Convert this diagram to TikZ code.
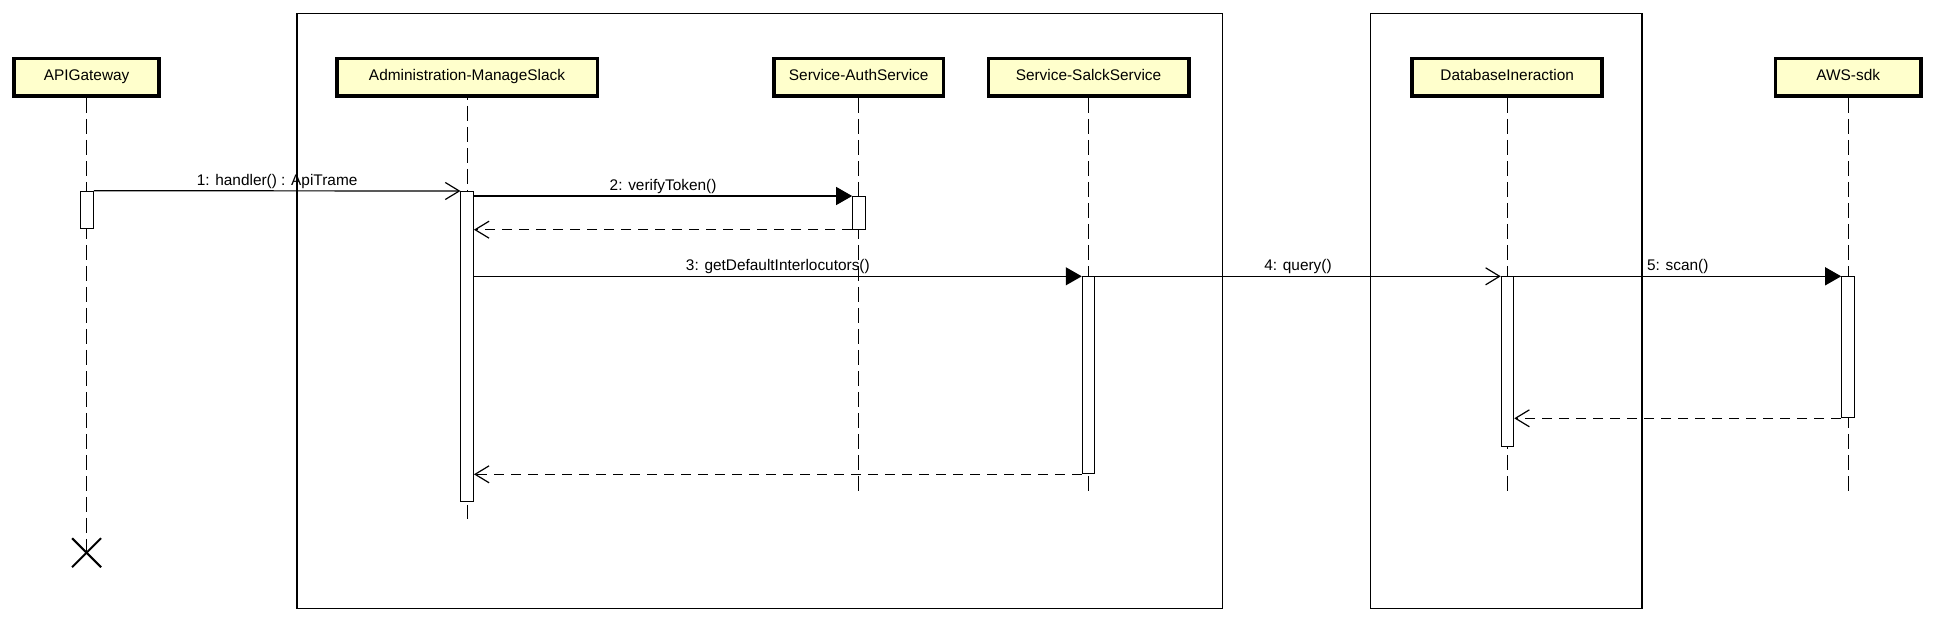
\documentclass[tikz,border=0pt]{standalone}
\usepackage{fontspec}
\setmainfont{Liberation Sans}
\usetikzlibrary{arrows.meta}
\definecolor{boxfill}{HTML}{FFFFCC}
\begin{document}
\begin{tikzpicture}[x=1pt,y=-1pt,
  every node/.style={font=\fontsize{15.4}{18}\selectfont},
  lifebox/.style={draw, line width=3.5pt, fill=boxfill, minimum height=37.5pt, inner sep=0pt, text height=11pt, text depth=5.5pt, anchor=north},
  act/.style={draw, line width=1pt, fill=white, minimum width=12.5pt, inner sep=0pt, anchor=north},
  lifeline/.style={line width=1pt, dash pattern=on 15pt off 6pt},
  frame/.style={line width=1.3pt},
  call/.style={line width=1.2pt, -{Triangle[length=16pt,width=18pt]}},
  async/.style={line width=1.2pt, -{Straight Barb[length=14pt,width=17pt,line width=1.2pt]}},
  ret/.style={line width=1.2pt, dash pattern=on 10pt off 7pt, -{Straight Barb[length=14pt,width=17pt,line width=1.2pt,sep=0pt]}},
  lbl/.style={anchor=base, yshift=5.5pt, inner sep=0pt},
  xmark/.style={line width=2pt}
]
\useasboundingbox (0,0) rectangle (1934,621);
% frames
\draw[frame] (297,13.3) rectangle (1222.4,608.3);
\draw[frame] (1370.8,13.3) rectangle (1642,608.3);
% lifeline heads
\node[lifebox, minimum width=145pt] (api) at (86.6,56.8) {APIGateway};
\node[lifebox, minimum width=260.5pt] (adm) at (467,56.8) {Administration-ManageSlack};
\node[lifebox, minimum width=169.3pt] (auth) at (858.7,56.8) {Service-AuthService};
\node[lifebox, minimum width=200.5pt] (slk) at (1088.5,56.8) {Service-SalckService};
\node[lifebox, minimum width=190pt] (db) at (1507.2,56.8) {DatabaseIneraction};
\node[lifebox, minimum width=145.3pt] (aws) at (1848.2,56.8) {AWS-sdk};
% lifeline ends
\coordinate (apiend) at (86.6,552.7);
\coordinate (admend) at (467,519);
\coordinate (authend) at (858.7,495);
\coordinate (slkend) at (1088.5,495);
\coordinate (dbend) at (1507.2,495);
\coordinate (awsend) at (1848.2,495);
\draw[lifeline] (api.south) -- (apiend);
\draw[lifeline, dash phase=13pt] (adm.south) -- (admend);
\draw[lifeline] (auth.south) -- (authend);
\draw[lifeline] (slk.south) -- (slkend);
\draw[lifeline] (db.south) -- (dbend);
\draw[lifeline] (aws.south) -- (awsend);
% activations
\node[act, minimum height=37pt] (apiact) at (87,190.7) {};
\node[act, minimum height=309.7pt] (admact) at (467.2,191) {};
\node[act, minimum height=32.7pt] (authact) at (858.9,196) {};
\node[act, minimum height=197pt] (slkact) at (1088.5,276.3) {};
\node[act, minimum height=169.7pt] (dbact) at (1507.5,276.3) {};
\node[act, minimum height=141pt] (awsact) at (1847.9,276.3) {};
% destruction mark
\draw[xmark] ([shift={(-14.5,-14.5)}]apiend) -- ([shift={(14.5,14.5)}]apiend);
\draw[xmark] ([shift={(-14.5,14.5)}]apiend) -- ([shift={(14.5,-14.5)}]apiend);
% messages
\draw[async] (apiact.north east) -- node[lbl]{1: handler() : ApiTrame} (admact.north west);
\draw[call] (admact.east |- authact.north) -- node[lbl]{2: verifyToken()} (authact.north west);
\draw[ret] (authact.south west) -- (admact.east |- authact.south);
\draw[call] (admact.east |- slkact.north) -- node[lbl]{3: getDefaultInterlocutors()} (slkact.north west);
\draw[async] (slkact.north east) -- node[lbl]{4: query()} (dbact.north west);
\draw[call] (dbact.north east) -- node[lbl]{5: scan()} (awsact.north west);
\draw[ret] (awsact.south west) -- (dbact.east |- awsact.south);
\draw[ret] (slkact.south west) -- (admact.east |- slkact.south);
\end{tikzpicture}
\end{document}
